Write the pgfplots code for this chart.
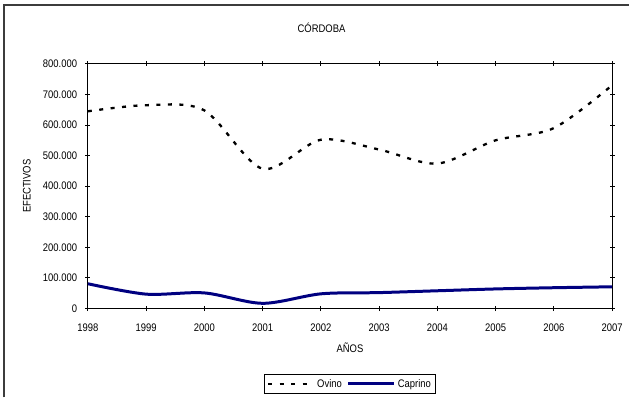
\documentclass[border=0pt]{standalone}
\usepackage{pgfplots}
\pgfplotsset{compat=1.18}
\usepackage{fontspec}
\setmainfont[FakeStretch=0.86]{Liberation Sans}
\definecolor{navy}{RGB}{0,0,128}
\definecolor{framegray}{RGB}{60,60,60}
\begin{document}
\fontsize{11bp}{13bp}\selectfont
\begin{tikzpicture}
\path (-88bp,-89bp) rectangle (542bp,309bp);
\begin{axis}[
  at={(0,0)}, anchor=south west,
  scale only axis, width=525bp, height=245bp,
  xmin=1998, xmax=2007, ymin=0, ymax=800000,
  xtick={1998,1999,2000,2001,2002,2003,2004,2005,2006,2007},
  xticklabels={1998,1999,2000,2001,2002,2003,2004,2005,2006,2007},
  ytick={0,100000,200000,300000,400000,500000,600000,700000,800000},
  yticklabels={0,100.000,200.000,300.000,400.000,500.000,600.000,700.000,800.000},
  scaled y ticks=false,
  xticklabel style={yshift=-9bp},
  yticklabel style={xshift=-4.5bp},
  tick label style={font=\fontsize{11bp}{13bp}\selectfont},
  tick align=center, major tick length=5bp,
  axis line style={line width=0.9bp},
  every tick/.style={black, line width=0.9bp},
  title={CÓRDOBA},
  title style={at={(axis description cs:0.4457,1.125)}, anchor=center, yshift=0pt, font=\fontsize{11bp}{13bp}\selectfont},
  xlabel={AÑOS},
  xlabel style={at={(axis description cs:0.5,-0.159)}, anchor=center, font=\fontsize{11bp}{13bp}\selectfont},
  ylabel={EFECTIVOS},
  ylabel style={at={(axis description cs:-0.1162,0.5)}, anchor=center, font=\fontsize{11bp}{13bp}\selectfont},
  legend columns=2,
  legend style={at={(axis description cs:0.5,-0.308)}, anchor=center, draw=black, line width=0.8bp,
    font=\fontsize{11bp}{13bp}\selectfont, inner xsep=3bp, inner ysep=2.5bp,
    /tikz/every even column/.append style={column sep=3bp}},
  legend image code/.code={\draw[#1] (0bp,0bp) -- (46bp,0bp);},
]
\addplot[black, line width=2.3bp, dash pattern=on 4bp off 7.5bp, smooth] coordinates {
(1998,645000) (1999,665000) (2000,648000) (2001,457000) (2002,552000)
(2003,520000) (2004,474000) (2005,550000) (2006,590000) (2007,730000)};
\addlegendentry{Ovino}
\addplot[navy, line width=3bp, smooth] coordinates {
(1998,81000) (1999,47000) (2000,51000) (2001,17000) (2002,48000)
(2003,52000) (2004,58000) (2005,64000) (2006,68000) (2007,71000)};
\addlegendentry{Caprino}
\end{axis}
\draw[line width=2bp, framegray] (-84bp,-89bp) -- (-84bp,304bp) -- (542bp,304bp);
\end{tikzpicture}
\end{document}
